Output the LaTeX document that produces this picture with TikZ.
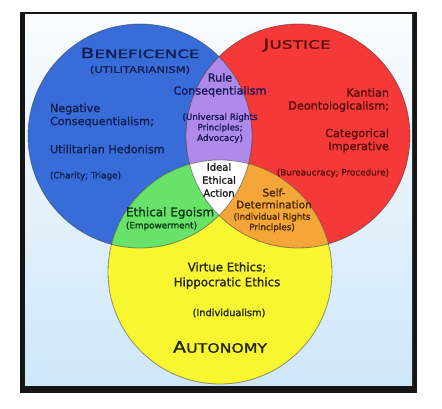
\documentclass[tikz,border=0pt]{standalone}
\usepackage{fontspec}
\setmainfont{DejaVu Sans}[FakeBold=1.3]
\usepackage{graphicx}
\definecolor{frame}{RGB}{22,22,22}
\definecolor{bgtop}{RGB}{250,252,253}
\definecolor{bgbot}{RGB}{206,231,250}
\definecolor{cblue}{RGB}{56,108,216}
\definecolor{cred}{RGB}{245,56,56}
\definecolor{cyellow}{RGB}{247,246,48}
\definecolor{cgreen}{RGB}{104,226,104}
\definecolor{cpurple}{RGB}{176,138,234}
\definecolor{corange}{RGB}{244,166,56}
\definecolor{tblue}{RGB}{18,30,80}
\definecolor{tred}{RGB}{85,15,12}
\definecolor{tpurple}{RGB}{24,24,90}
\definecolor{tgreen}{RGB}{10,55,20}
\definecolor{torange}{RGB}{68,38,5}
\definecolor{tyellow}{RGB}{38,38,15}
\definecolor{tdark}{RGB}{25,25,25}
\begin{document}
\begin{tikzpicture}[x=1pt,y=-1pt,
  every node/.style={inner sep=0pt, outer sep=0pt},
  main/.style={font=\fontsize{11.2}{13}\selectfont},
  small/.style={font=\fontsize{8.8}{10.5}\selectfont},
  outline/.style={draw=black!75, draw opacity=0.55, line width=0.8pt}]
\fill[white] (0,0) rectangle (442,408);
\useasboundingbox (0,0) rectangle (442,408);
\fill[frame] (20,12) rectangle (417,393);
\shade[top color=bgtop, bottom color=bgbot] (25,14) rectangle (412,385);
% circles
\fill[cblue] (140,136) circle[radius=112];
\fill[cred] (298,136) circle[radius=112];
\fill[cyellow] (220,272) circle[radius=112];
\begin{scope}
  \clip (140,136) circle[radius=112];
  \fill[cpurple] (298,136) circle[radius=112];
  \fill[cgreen] (220,272) circle[radius=112];
\end{scope}
\begin{scope}
  \clip (298,136) circle[radius=112];
  \fill[corange] (220,272) circle[radius=112];
  \clip (140,136) circle[radius=112];
  \fill[white] (220,272) circle[radius=112];
\end{scope}
\draw[outline] (140,136) circle[radius=112];
\draw[outline] (298,136) circle[radius=112];
\draw[outline] (220,272) circle[radius=112];
% Beneficence
\node[text=tblue] (benef) at (140,53) {\scalebox{1.45}[1]{\fontsize{14}{14}\selectfont B\fontsize{11.5}{14}\selectfont ENEFICENCE}};
\node[text=tblue] (util) at (140,70) {\scalebox{1.28}[1]{\fontsize{9}{10}\selectfont (UTILITARIANISM)}};
\node[main, text=tblue, anchor=west, align=left] (neg) at (50,115.5) {Negative\\Consequentialism;};
\node[main, text=tblue, anchor=west] (hed) at (50,149) {Utilitarian Hedonism};
\node[small, text=tblue, anchor=west] (char) at (50,176) {(Charity; Triage)};
% Rule consequentialism
\node[main, text=tpurple, align=center] (rule) at (220,85) {Rule\\Conseqentialism};
\node[small, text=tpurple, align=center] (univ) at (220,128) {(Universal Rights\\Principles;\\Advocacy)};
% Ideal
\node[font=\fontsize{10}{13}\selectfont, text=tdark, align=center] (ideal) at (219,180) {Ideal\\Ethical\\Action};
% Justice
\node[text=tred] (just) at (297,45) {\scalebox{1.48}[1]{\fontsize{14}{14}\selectfont J\fontsize{11.5}{14}\selectfont USTICE}};
\node[main, text=tred, anchor=east, align=right] (kant) at (389,100) {Kantian\\Deontologicalism;};
\node[main, text=tred, anchor=east, align=right] (cat) at (389,140.5) {Categorical\\Imperative};
\node[small, text=tred, anchor=east] (bur) at (389,173) {(Bureaucracy; Procedure)};
% Self-determination
\node[font=\fontsize{10.5}{12}\selectfont, text=torange, align=center] (self) at (274,198.5) {Self-\\Determination};
\node[small, text=torange, align=center] (indiv) at (272,222.5) {(Individual Rights\\Principles)};
% Ethical egoism
\node[font=\fontsize{12}{13}\selectfont, text=tgreen, anchor=west] (ego) at (126,213) {Ethical Egoism};
\node[small, text=tgreen, anchor=west] (emp) at (126,226) {(Empowerment)};
% Autonomy
\node[font=\fontsize{11.8}{15}\selectfont, text=tyellow, align=center] (virt) at (227,275.5) {Virtue Ethics;\\Hippocratic Ethics};
\node[font=\fontsize{9.8}{12}\selectfont, text=tyellow] (indl) at (229,313) {(Individualism)};
\node[text=tyellow] (auto) at (220,347) {\scalebox{1.21}[1]{\fontsize{16}{16}\selectfont A\fontsize{13}{16}\selectfont UTONOMY}};
\end{tikzpicture}
\end{document}
